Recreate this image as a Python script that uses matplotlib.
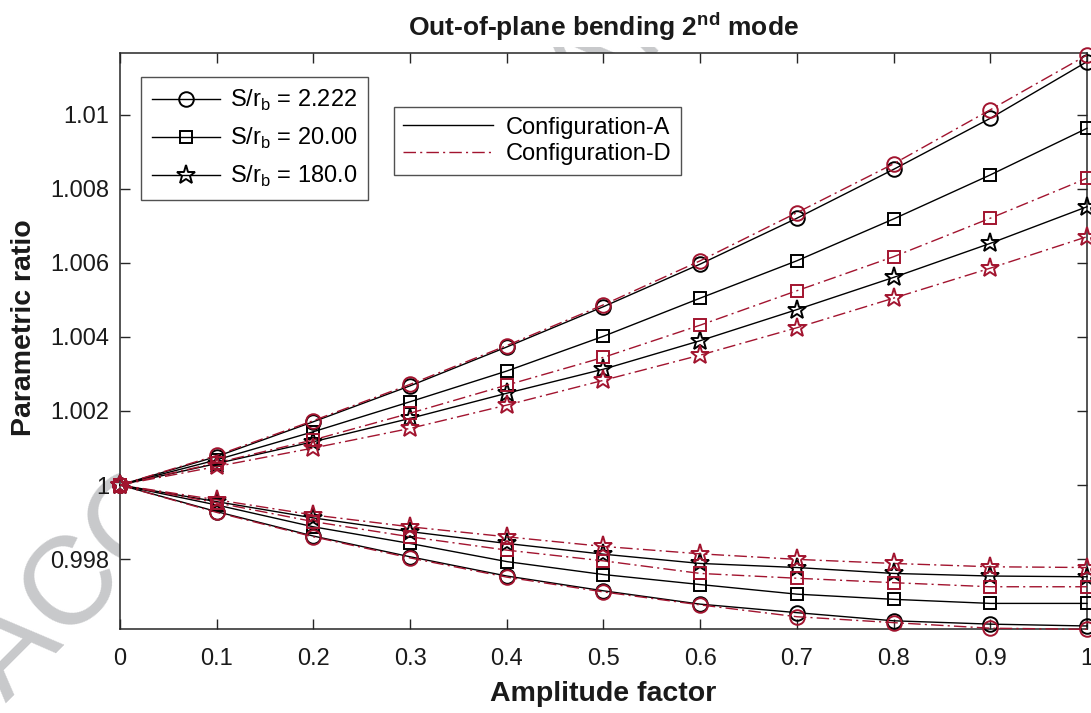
import matplotlib
matplotlib.use('Agg')
import matplotlib.pyplot as plt
from matplotlib.transforms import Bbox, TransformedBbox

plt.rcParams['font.family'] = ['Liberation Sans', 'DejaVu Sans']
plt.rcParams['mathtext.fontset'] = 'custom'
plt.rcParams['mathtext.rm'] = 'Liberation Sans'
plt.rcParams['mathtext.bf'] = 'Liberation Sans:bold'

# ---- data ----
amplitude = [0.0, 0.1, 0.2, 0.3, 0.4, 0.5, 0.6, 0.7, 0.8, 0.9, 1.0]

# upper branch
up_A_222 = [1.0, 1.00077, 1.00171, 1.00268, 1.00373, 1.00482, 1.00597, 1.00721, 1.00853, 1.00991, 1.01144]
up_D_222 = [1.0, 1.00080, 1.00174, 1.00272, 1.00377, 1.00487, 1.00606, 1.00736, 1.00868, 1.01014, 1.01162]
up_A_20 = [1.0, 1.00068, 1.00144, 1.00225, 1.00308, 1.00402, 1.00505, 1.00606, 1.00719, 1.00838, 1.00964]
up_D_20 = [1.0, 1.00060, 1.00122, 1.00194, 1.00270, 1.00345, 1.00432, 1.00525, 1.00617, 1.00721, 1.00829]
up_A_180 = [1.0, 1.00058, 1.00117, 1.00180, 1.00248, 1.00313, 1.00390, 1.00474, 1.00561, 1.00653, 1.00752]
up_D_180 = [1.0, 1.00050, 1.00100, 1.00153, 1.00216, 1.00283, 1.00351, 1.00425, 1.00505, 1.00586, 1.00671]

# lower branch
lo_A_222 = [1.0, 0.99928, 0.99862, 0.99806, 0.99754, 0.99714, 0.99678, 0.99655, 0.99633, 0.99624, 0.99619]
lo_D_222 = [1.0, 0.99926, 0.99860, 0.99803, 0.99751, 0.99711, 0.99676, 0.99644, 0.99628, 0.99613, 0.99610]
lo_A_20 = [1.0, 0.99946, 0.99887, 0.99842, 0.99793, 0.99758, 0.99731, 0.99705, 0.99691, 0.99680, 0.99680]
lo_D_20 = [1.0, 0.99952, 0.99901, 0.99860, 0.99824, 0.99795, 0.99761, 0.99748, 0.99736, 0.99725, 0.99725]
lo_A_180 = [1.0, 0.99955, 0.99911, 0.99874, 0.99842, 0.99813, 0.99788, 0.99777, 0.99761, 0.99754, 0.99752]
lo_D_180 = [1.0, 0.99960, 0.99919, 0.99887, 0.99860, 0.99834, 0.99814, 0.99799, 0.99788, 0.99779, 0.99777]

ratio_labels = ['S/r$_\\mathregular{b}$ = 2.222', 'S/r$_\\mathregular{b}$ = 20.00', 'S/r$_\\mathregular{b}$ = 180.0']
config_labels = ['Configuration-A', 'Configuration-D']
x_ticks = [0, 0.1, 0.2, 0.3, 0.4, 0.5, 0.6, 0.7, 0.8, 0.9, 1]
x_ticklabels = ['0', '0.1', '0.2', '0.3', '0.4', '0.5', '0.6', '0.7', '0.8', '0.9', '1']
y_ticks = [0.998, 1.0, 1.002, 1.004, 1.006, 1.008, 1.01]
y_ticklabels = ['0.998', '1', '1.002', '1.004', '1.006', '1.008', '1.01']

BLACK = '#000000'
RED = '#A2142F'
AXC = '#262626'
TXT = '#1a1a1a'
DASHDOT = (9, 3, 1.5, 3)
MARKERS = {'o': 10.5, 's': 8.6, '*': 14}

fig = plt.figure(figsize=(10.91, 7.13), dpi=100)
ax = fig.add_axes([0.110, 0.1178, 0.8863, 0.8079])
ax.set_zorder(2)
ax.set_facecolor('white')

# faint watermark behind the axes
wm = fig.text(0.006, 0.014, 'ACCEPTED MANUSCRIPT', rotation=45, rotation_mode='anchor',
              ha='left', va='baseline', fontsize=90, color='#c8c9cb', zorder=0)
wm.set_clip_box(TransformedBbox(Bbox([[0, 0], [1, 0.934]]), fig.transFigure))

groups = [
    ('o', up_A_222, up_D_222, lo_A_222, lo_D_222),
    ('s', up_A_20, up_D_20, lo_A_20, lo_D_20),
    ('*', up_A_180, up_D_180, lo_A_180, lo_D_180),
]
for mk, uA, uD, lA, lD in groups:
    ms = MARKERS[mk]
    for vals in (uA, lA):
        ax.plot(amplitude, vals, color=BLACK, lw=1.0, marker=mk, ms=ms,
                mfc='none', mec=BLACK, mew=1.4, clip_on=False, zorder=3)
    for vals in (uD, lD):
        ax.plot(amplitude, vals, color=RED, lw=1.0, marker=mk, ms=ms, dashes=DASHDOT,
                mfc='none', mec=RED, mew=1.4, clip_on=False, zorder=4)

ax.set_xlim(0, 1)
ax.set_ylim(0.996108, 1.011676)
ax.set_xticks(x_ticks)
ax.set_xticklabels(x_ticklabels)
ax.set_yticks(y_ticks)
ax.set_yticklabels(y_ticklabels)
ax.tick_params(direction='in', length=7.5, width=1.0, colors=AXC, labelsize=17,
               top=True, right=True, labelcolor=TXT)
ax.tick_params(axis='x', pad=13.5)
ax.tick_params(axis='y', pad=8)
for sp in ax.spines.values():
    sp.set_color(AXC)
    sp.set_linewidth(1.1)

ax.set_xlabel('Amplitude factor', fontsize=20.5, fontweight='bold', color=TXT, labelpad=8)
ax.set_ylabel('Parametric ratio', fontsize=20.5, fontweight='bold', color=TXT)
ax.yaxis.set_label_coords(-0.086, 0.5226)
ax.set_title('Out-of-plane bending 2$^{\\mathbf{nd}}$ mode', fontsize=19, fontweight='bold',
             color=TXT, pad=12)

# legend 1: S/r_b markers
h1 = [plt.Line2D([], [], color=BLACK, lw=1.0, marker=mk, ms=MARKERS[mk], mfc='none', mew=1.4)
      for mk in ('o', 's', '*')]
leg1 = ax.legend(h1, ratio_labels, loc='upper left', bbox_to_anchor=(0.0217, 0.958),
                 borderaxespad=0, fontsize=17, frameon=True, fancybox=False,
                 handlelength=2.9, handletextpad=0.4, labelspacing=0.55, borderpad=0.45)
leg1.get_frame().set_edgecolor(AXC)
leg1.get_frame().set_linewidth(1.0)
ax.add_artist(leg1)

# legend 2: configurations
h2 = [plt.Line2D([], [], color=BLACK, lw=1.0),
      plt.Line2D([], [], color=RED, lw=1.0, dashes=DASHDOT)]
leg2 = ax.legend(h2, config_labels, loc='upper left', bbox_to_anchor=(0.283, 0.906),
                 borderaxespad=0, fontsize=17, frameon=True, fancybox=False,
                 handlelength=3.8, handletextpad=0.55, labelspacing=0.2, borderpad=0.4)
leg2.get_frame().set_edgecolor(AXC)
leg2.get_frame().set_linewidth(1.0)

fig.savefig('out.png', dpi=100, facecolor='white')
